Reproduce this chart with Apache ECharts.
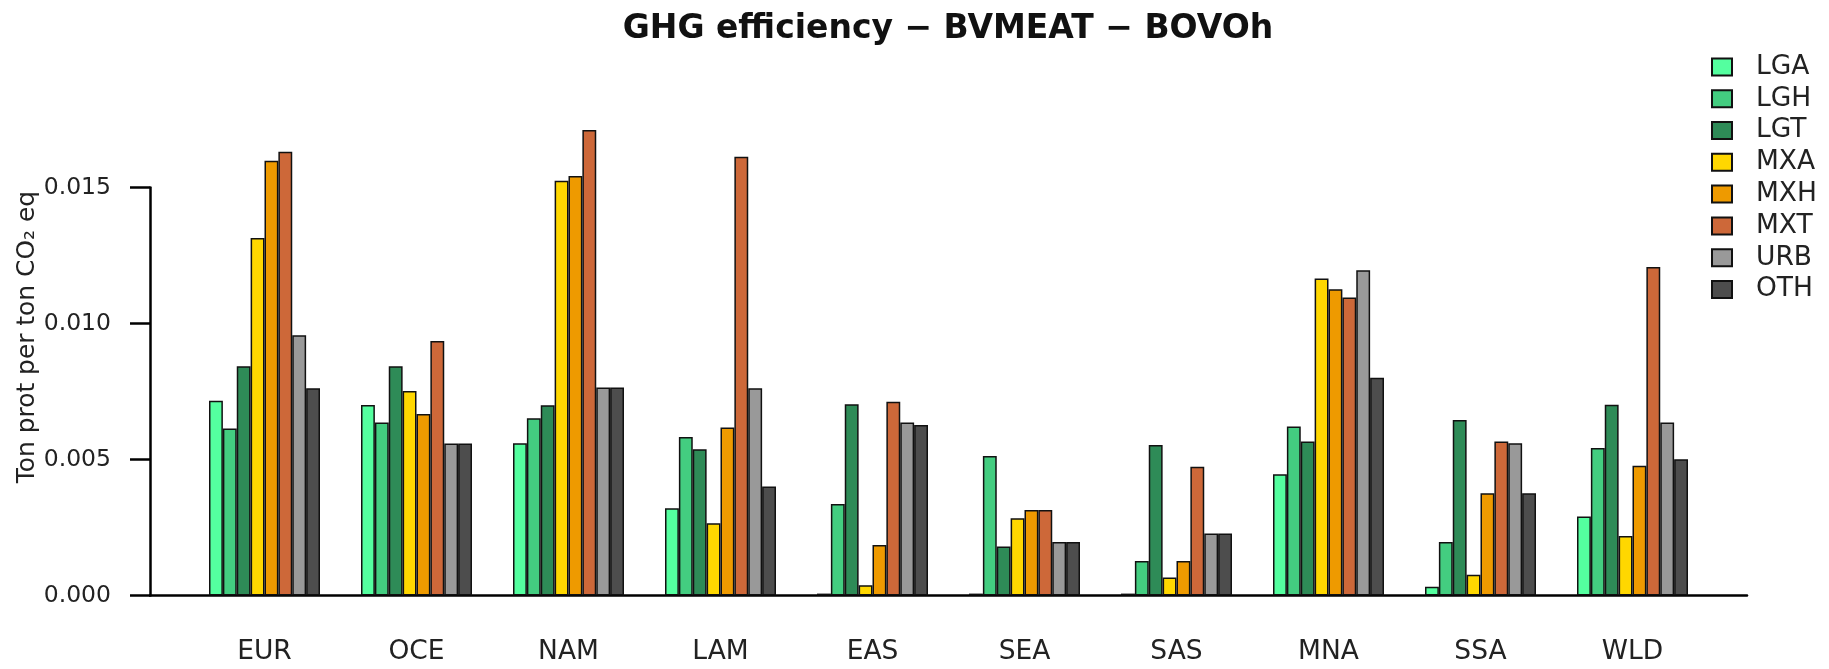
<!DOCTYPE html>
<html>
<head>
<meta charset="utf-8">
<script src="https://cdn.jsdelivr.net/npm/echarts@6/dist/echarts.min.js"></script>
<style>
  html, body { margin: 0; padding: 0; background: #fff; }
  #chart { width: 1829px; height: 669px; }
</style>
</head>
<body>
<div id="chart"></div>
<script>
// regions on the x axis
const regions = ["EUR", "OCE", "NAM", "LAM", "EAS", "SEA", "SAS", "MNA", "SSA", "WLD"];
// y axis ticks
const yTicks = [0, 0.005, 0.010, 0.015];

// Ton prot per ton CO2 eq, one array per system
const LGA = [0.00716, 0.00700, 0.00560, 0.00321, 0.00007, 0.00007, 0.00007, 0.00446, 0.00032, 0.00290];
const LGH = [0.00614, 0.00636, 0.00652, 0.00583, 0.00336, 0.00513, 0.00127, 0.00621, 0.00197, 0.00542];
const LGT = [0.00843, 0.00843, 0.00699, 0.00538, 0.00703, 0.00180, 0.00553, 0.00566, 0.00645, 0.00701];
const MXA = [0.01314, 0.00752, 0.01525, 0.00266, 0.00038, 0.00284, 0.00066, 0.01165, 0.00076, 0.00219];
const MXH = [0.01598, 0.00667, 0.01542, 0.00618, 0.00186, 0.00314, 0.00127, 0.01126, 0.00376, 0.00477];
const MXT = [0.01631, 0.00936, 0.01711, 0.01613, 0.00712, 0.00314, 0.00473, 0.01096, 0.00566, 0.01208];
const URB = [0.00957, 0.00559, 0.00765, 0.00762, 0.00636, 0.00197, 0.00228, 0.01196, 0.00560, 0.00636];
const OTH = [0.00762, 0.00559, 0.00765, 0.00401, 0.00627, 0.00197, 0.00228, 0.00801, 0.00376, 0.00501];

const systems = ["LGA", "LGH", "LGT", "MXA", "MXH", "MXT", "URB", "OTH"];
const values = [LGA, LGH, LGT, MXA, MXH, MXT, URB, OTH];
const colors = ["#54FF9F", "#43CD80", "#2E8B57", "#FFD700", "#EE9A00", "#CD6839", "#999999", "#4D4D4D"];

const FONT = "DejaVu Sans";
const TXT = "#222";

const chart = echarts.init(document.getElementById("chart"));

chart.setOption({
    animation: false,
    backgroundColor: "#fff",
    title: {
        text: "GHG efficiency \u2212 BVMEAT \u2212 BOVOh",
        left: 948,
        top: 13,
        padding: 0,
        textAlign: "center",
        textStyle: { fontFamily: FONT, fontWeight: "bold", fontSize: 33, color: "#111" },
    },
    legend: {
        data: systems,
        orient: "vertical",
        left: 1711,
        top: 51,
        padding: 0,
        itemWidth: 20,
        itemHeight: 17,
        itemGap: 0,
        icon: "rect",
        selectedMode: false,
        textStyle: {
            fontFamily: FONT,
            fontSize: 26.5,
            color: TXT,
            lineHeight: 31.8,
            padding: [0, 0, 0, 19],
        },
    },
    grid: [
        // bars
        { left: 188.5, top: 78.7, width: 1520, height: 516.8, outerBoundsMode: "none" },
        // R style axes: y axis from 0 to 0.015 and the zero line
        { left: 150, top: 187.5, width: 1597, height: 408, outerBoundsMode: "none" },
    ],
    xAxis: [
        {
            type: "category",
            gridIndex: 0,
            data: regions,
            axisLine: { show: false },
            axisTick: { show: false },
            axisLabel: {
                interval: 0,
                margin: 43,
                fontFamily: FONT,
                fontSize: 26.5,
                color: TXT,
            },
            splitLine: { show: false },
        },
        {
            type: "value",
            gridIndex: 1,
            min: 0,
            max: 1,
            axisLine: { show: true, lineStyle: { color: "#000", width: 2.5 } },
            axisTick: { show: false },
            axisLabel: { show: false },
            splitLine: { show: false },
        },
    ],
    yAxis: [
        {
            type: "value",
            gridIndex: 0,
            min: 0,
            max: 0.019,
            name: "Ton prot per ton CO\u2082 eq",
            nameLocation: "middle",
            nameRotate: 90,
            nameGap: 148,
            nameTextStyle: { fontFamily: FONT, fontSize: 24.9, color: TXT },
            axisLine: { show: false },
            axisTick: { show: false },
            axisLabel: { show: false },
            splitLine: { show: false },
        },
        {
            type: "value",
            gridIndex: 1,
            min: yTicks[0],
            max: yTicks[yTicks.length - 1],
            interval: 0.005,
            axisLine: { show: true, lineStyle: { color: "#000", width: 2.5 } },
            axisTick: { show: true, length: 20, lineStyle: { color: "#000", width: 2.5 } },
            axisLabel: {
                margin: 39,
                fontFamily: FONT,
                fontSize: 23.5,
                color: TXT,
                formatter: (v) => v.toFixed(3),
            },
            splitLine: { show: false },
        },
    ],
    series: systems.map((name, i) => ({
        name: name,
        type: "bar",
        xAxisIndex: 0,
        yAxisIndex: 0,
        data: values[i],
        barWidth: 13.875,
        barGap: "0%",
        itemStyle: { color: colors[i], borderColor: "#111", borderWidth: 1.5 },
        emphasis: { disabled: true },
    })),
});
</script>
</body>
</html>
